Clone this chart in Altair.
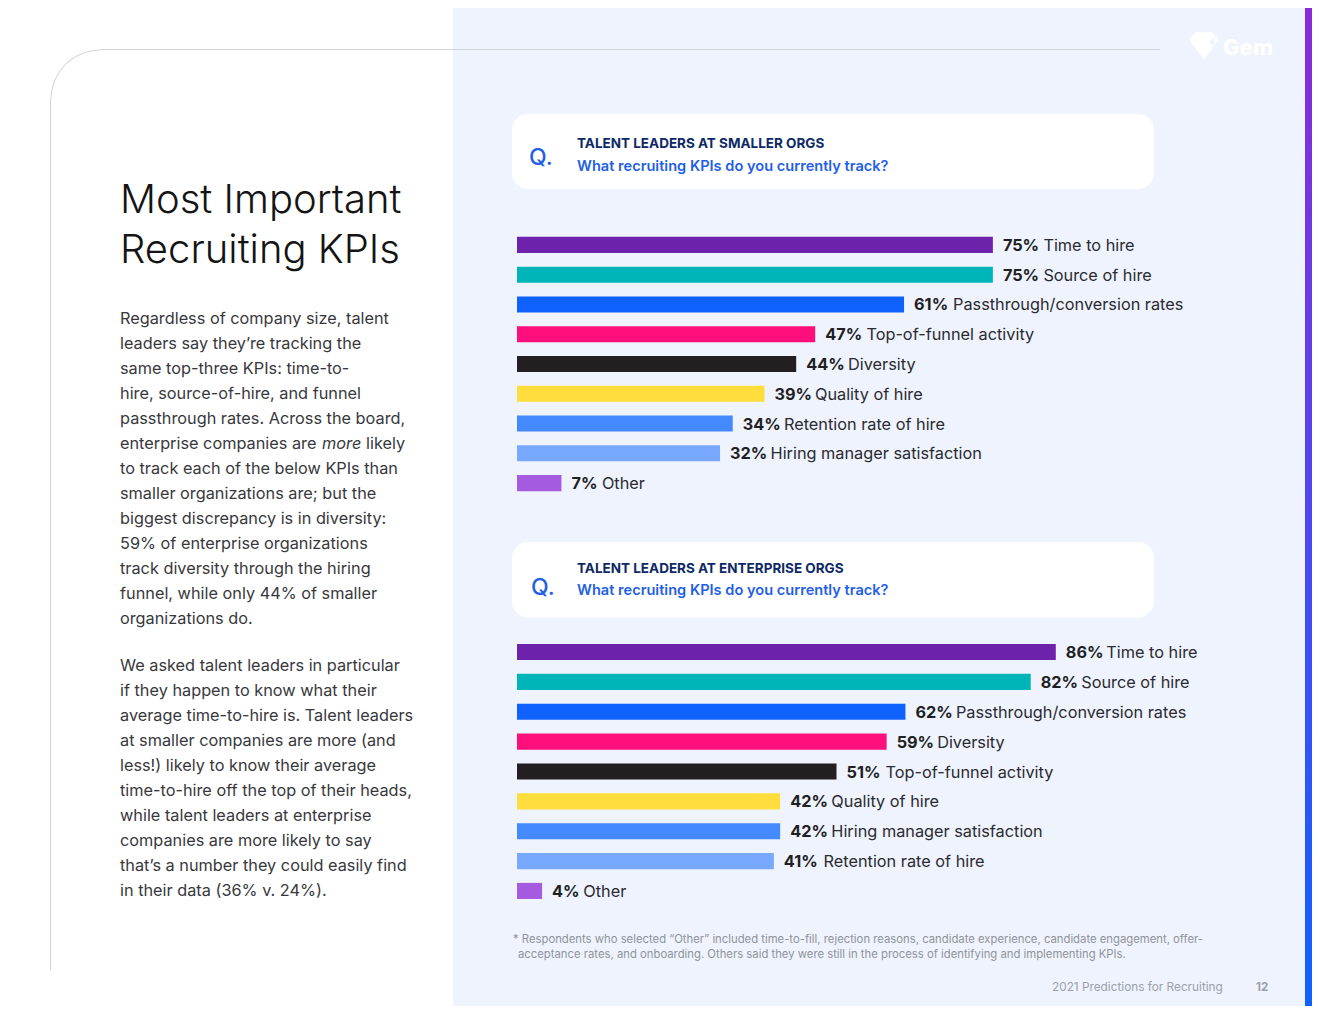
import altair as alt
import pandas as pd
import math

# ---------------- data ----------------
small_labels = ["Time to hire", "Source of hire", "Passthrough/conversion rates",
                "Top-of-funnel activity", "Diversity", "Quality of hire",
                "Retention rate of hire", "Hiring manager satisfaction", "Other"]
small_values = [75, 75, 61, 47, 44, 39, 34, 32, 7]

ent_labels = ["Time to hire", "Source of hire", "Passthrough/conversion rates",
              "Diversity", "Top-of-funnel activity", "Quality of hire",
              "Hiring manager satisfaction", "Retention rate of hire", "Other"]
ent_values = [86, 82, 62, 59, 51, 42, 42, 41, 4]

rank_colors = ["#6D22AB", "#00B5B7", "#0F62FE", "#FF0F7B", "#231F20",
               "#FFDD3D", "#4589FF", "#78A9FF", "#A55BDF"]

title_lines = ["Most Important", "Recruiting KPIs"]
para1_a = ["Regardless of company size, talent",
           "leaders say they\u2019re tracking the",
           "same top-three KPIs: time-to-",
           "hire, source-of-hire, and funnel",
           "passthrough rates. Across the board,"]
para1_b = ["to track each of the below KPIs than",
           "smaller organizations are; but the",
           "biggest discrepancy is in diversity:",
           "59% of enterprise organizations",
           "track diversity through the hiring",
           "funnel, while only 44% of smaller",
           "organizations do."]
para2 = ["We asked talent leaders in particular",
         "if they happen to know what their",
         "average time-to-hire is. Talent leaders",
         "at smaller companies are more (and",
         "less!) likely to know their average",
         "time-to-hire off the top of their heads,",
         "while talent leaders at enterprise",
         "companies are more likely to say",
         "that\u2019s a number they could easily find",
         "in their data (36% v. 24%)."]
footnote1 = "* Respondents who selected \u201cOther\u201d included time-to-fill, rejection reasons, candidate experience, candidate engagement, offer-"
footnote2 = "acceptance rates, and onboarding. Others said they were still in the process of identifying and implementing KPIs."

FONT = "Inter"
W, H = 1304, 998
O = 8  # page margin offset

def px(v):
    return v - O

one = pd.DataFrame({"a": [0]})


def vtext(text, x, y, size, color, weight="normal", style="normal", lh=None, align="left"):
    kw = dict(font=FONT, fontSize=size, color=color, fontWeight=weight, fontStyle=style,
              align=align, baseline="alphabetic")
    if lh is not None:
        kw["lineHeight"] = lh
    return alt.Chart(one).mark_text(**kw).encode(
        x=alt.value(px(x)), y=alt.value(px(y)), text=alt.value(text))


def vrect(x, x2, y, y2, color, **kw):
    return alt.Chart(one).mark_rect(color=color, **kw).encode(
        x=alt.value(px(x)), x2=alt.value(px(x2)), y=alt.value(px(y)), y2=alt.value(px(y2)))


def bar_block(labels, values, xr, yr):
    df = pd.DataFrame({"rank": list(range(len(labels))), "label": labels, "value": values})
    ppu = (xr[1] - xr[0]) / 100.0
    xs = alt.Scale(domain=[0, 100], range=[px(xr[0]), px(xr[1])])
    ys = alt.Scale(domain=list(range(len(labels))), range=[px(yr[0]), px(yr[1])],
                   paddingInner=0.46, paddingOuter=0.23)
    dw = "(({d})==1 ? 8.5 : (({d})==4 ? 10.7 : 10))"
    wexpr = ("(datum.value >= 10 ? " + dw.format(d="floor(datum.value/10)") + " : 0) + "
             + dw.format(d="datum.value % 10") + " + 14.5")
    base = alt.Chart(df).transform_calculate(
        pct="datum.value + '%'",
        labx="datum.value + (16 + " + wexpr + ") / " + repr(ppu),
    )
    X = alt.X("value:Q", scale=xs, axis=None)
    Y = alt.Y("rank:O", scale=ys, axis=None)
    bars = base.mark_bar(cornerRadius=0).encode(
        x=X, y=Y,
        color=alt.Color("rank:O", scale=alt.Scale(domain=list(range(len(labels))), range=rank_colors), legend=None),
    )
    tkw = dict(font=FONT, fontSize=16.3, baseline="middle", align="left", dy=1)
    pct = base.mark_text(fontWeight="bold", dx=10, color="#1F1F24", **tkw).encode(
        x=X, y=Y, text="pct:N")
    lab = base.mark_text(color="#2A2A30", **tkw).encode(
        x=alt.X("labx:Q", scale=xs, axis=None), y=Y, text="label:N")
    return alt.layer(bars, pct, lab)


small_block = bar_block(small_labels, small_values, (517, 1151.5), (230, 498))
ent_block = bar_block(ent_labels, ent_values, (517, 1143.5), (637.1, 905.9))

PANEL = "#EEF3FD"
LINE = "#D2D4D8"

panel = vrect(453, 1305, 0, 1020, PANEL)
stripe = alt.Chart(one).mark_rect(
    color=alt.LinearGradient(gradient="linear",
                             stops=[alt.GradientStop(color="#8A2BD6", offset=0),
                                    alt.GradientStop(color="#5046F0", offset=0.5),
                                    alt.GradientStop(color="#0F62FE", offset=1)],
                             x1=0, x2=0, y1=0, y2=1)
).encode(x=alt.value(px(1305)), x2=alt.value(W), y=alt.value(0), y2=alt.value(H))

frame_v = alt.Chart(one).mark_rule(color=LINE, strokeWidth=1).encode(
    x=alt.value(px(50.5)), y=alt.value(px(99)), y2=alt.value(px(970)))
frame_h = alt.Chart(one).mark_rule(color=LINE, strokeWidth=1).encode(
    x=alt.value(px(100)), x2=alt.value(px(1160)), y=alt.value(px(49.5)))
frame_arc = alt.Chart(one).mark_arc(color=LINE, radius=50, radius2=49,
                                    theta=1.5 * math.pi, theta2=2 * math.pi).encode(
    x=alt.value(px(100.5)), y=alt.value(px(99.5)))

box1 = vrect(512, 1154, 114, 189, "white", cornerRadius=16)
box2 = vrect(512, 1154, 542, 617.5, "white", cornerRadius=16)

NAVY = "#0D2A66"
QBLUE = "#1F60E4"
q_texts = [
    vtext("Q.", 529, 165, 23, QBLUE, weight=500),
    vtext("TALENT LEADERS AT SMALLER ORGS", 577, 148, 13.5, NAVY, weight="bold"),
    vtext("What recruiting KPIs do you currently track?", 577, 171, 14.6, QBLUE, weight=600),
    vtext("Q.", 531, 595, 23, QBLUE, weight=500),
    vtext("TALENT LEADERS AT ENTERPRISE ORGS", 577, 573, 13.5, NAVY, weight="bold"),
    vtext("What recruiting KPIs do you currently track?", 577, 595, 14.6, QBLUE, weight=600),
]

BODY = "#38383C"
BS = 16.3
left_texts = [
    vtext(title_lines, 120, 213, 40, "#141414", weight=300, lh=49.5),
    vtext(para1_a, 120, 324, BS, BODY, lh=25),
    vtext("enterprise companies are", 120, 449, BS, BODY),
    vtext("more", 322, 449, BS, BODY, style="italic"),
    vtext("likely", 366, 449, BS, BODY),
    vtext(para1_b, 120, 474, BS, BODY, lh=25),
    vtext(para2, 120, 671, BS, BODY, lh=25),
]

FOOT = "#8E939B"
foot_texts = [
    vtext(footnote1, 513, 943, 11.3, FOOT),
    vtext(footnote2, 518, 958, 11.3, FOOT),
    vtext("2021 Predictions for Recruiting", 1052, 991, 11.8, "#9CA1A9"),
    vtext("12", 1256, 991, 11.5, "#9CA1A9", weight="bold"),
]

# Gem logo (white on panel)
gem_shape = alt.Chart(one).mark_point(
    shape="M-1,-0.35 L-0.55,-0.85 L0.55,-0.85 L1,-0.35 L0,0.95 Z",
    size=900, filled=True, color="white", opacity=1, strokeWidth=0).encode(
    x=alt.value(px(1204)), y=alt.value(px(45)))
gem_notch = alt.Chart(one).mark_point(
    shape="M0.5,-1 L0.5,1 L-0.6,0 Z",
    size=90, filled=True, color=PANEL, opacity=1, strokeWidth=0).encode(
    x=alt.value(px(1212)), y=alt.value(px(42)))
gem_text = vtext("Gem", 1223, 55, 22, "white", weight=800)

chart = alt.layer(
    panel, stripe, frame_v, frame_h, frame_arc, box1, box2,
    *q_texts, *left_texts, *foot_texts, gem_shape, gem_notch, gem_text,
    small_block, ent_block,
).resolve_scale(x="independent", y="independent", color="independent").properties(
    width=W, height=H, padding=0, autosize="none", background="white"
).configure_view(stroke=None)

chart.save("out.html", embed_options={"renderer": "svg", "actions": False})
